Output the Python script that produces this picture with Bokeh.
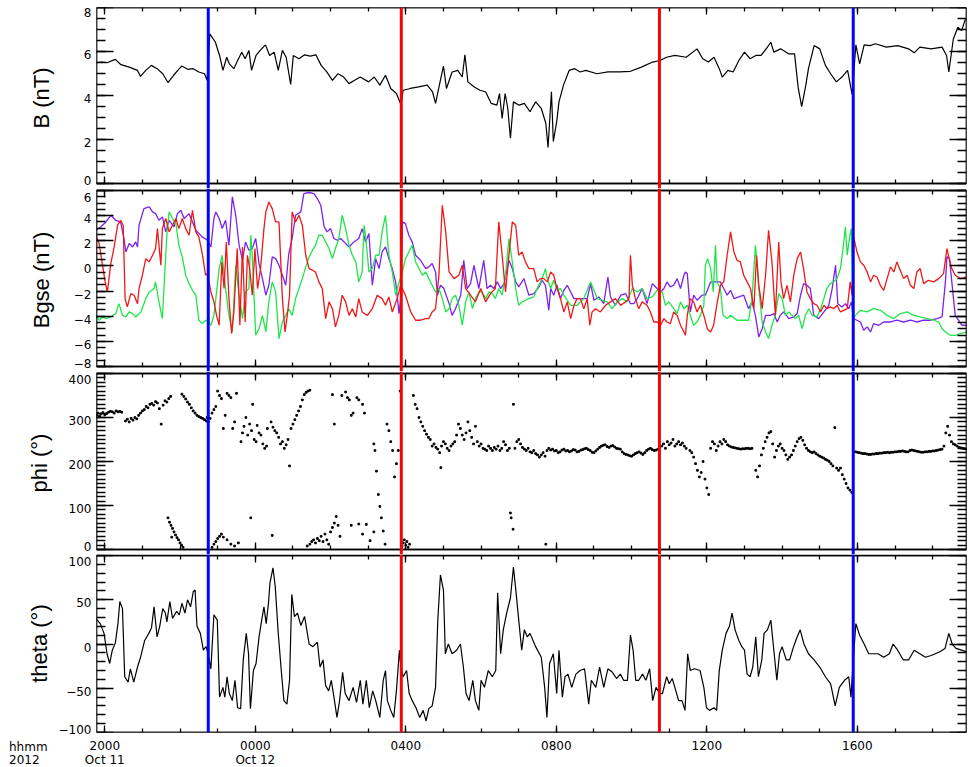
import numpy as np
from bokeh.plotting import figure
from bokeh.layouts import column
from bokeh.models import Range1d, LinearAxis, FixedTicker, Span, Div
from bokeh.embed import file_html
from bokeh.resources import INLINE

# ---------------- data (time in hours since 2012-10-11 00:00) ----------------
b_t = [19.76,19.91,20.06,20.28,20.43,20.65,20.87,20.95,21.09,21.24,
       21.39,21.54,21.68,21.83,21.98,22.05,22.20,22.35,22.50,22.65,
       22.72,22.79,22.94,23.05,23.14,23.24,23.31,23.43,23.53,23.64,
       23.73,23.83,23.90,24.02,24.13,24.27,24.38,24.50,24.61,24.72,
       24.82,24.94,25.01,25.16,25.31,25.46,25.61,25.75,25.90,26.05,
       26.20,26.35,26.49,26.64,26.79,27.01,27.16,27.31,27.46,27.60,
       27.75,27.87,27.93,28.12,28.34,28.57,28.71,28.79,28.91,29.00,
       29.08,29.23,29.38,29.50,29.57,29.65,29.82,29.97,30.12,30.27,
       30.42,30.49,30.56,30.64,30.71,30.78,30.86,31.01,31.15,31.30,
       31.45,31.60,31.72,31.78,31.87,31.92,32.01,32.07,32.19,32.34,
       32.49,32.63,32.78,33.08,33.37,33.67,33.97,34.26,34.56,34.75,
       34.93,35.15,35.45,35.74,35.89,36.04,36.19,36.33,36.41,36.56,
       36.70,36.85,37.00,37.15,37.30,37.44,37.59,37.70,37.78,37.96,
       38.18,38.33,38.43,38.52,38.63,38.70,38.85,39.00,39.15,39.29,
       39.44,39.59,39.74,39.86,39.96,40.06,40.18,40.33,40.48,40.77,
       41.07,41.36,41.51,41.66,41.96,42.25,42.37,42.43,42.55,42.67,
       42.77,42.87]
b_v = [5.49,5.52,5.49,5.64,5.40,5.29,5.14,4.87,5.14,5.37,
       5.22,4.99,4.59,4.92,5.22,5.34,5.19,5.22,5.07,4.99,
       4.69,6.80,6.42,5.82,5.14,5.74,5.44,5.22,5.59,5.97,
       5.67,6.05,5.14,5.82,6.05,6.30,5.82,5.97,5.14,6.05,
       5.74,4.50,5.82,5.67,5.85,5.79,5.85,5.37,5.07,4.69,
       4.99,4.84,4.54,4.69,4.84,4.62,4.84,4.47,4.92,4.32,
       4.09,3.59,4.24,4.32,4.39,4.47,4.17,3.64,4.62,5.34,
       4.32,5.07,5.14,4.84,5.85,4.62,4.39,4.24,4.17,3.64,
       3.56,4.09,2.96,4.09,3.41,2.06,3.71,3.56,3.64,3.26,
       3.71,3.41,2.74,1.64,4.17,1.91,2.81,3.71,4.47,5.14,
       5.22,5.07,5.14,4.99,5.07,5.07,5.10,5.29,5.52,5.59,
       5.74,5.82,5.74,6.12,5.67,5.52,5.74,5.22,4.84,5.14,
       5.07,5.59,5.97,5.67,5.82,5.82,6.15,6.42,5.97,6.12,
       5.89,5.89,4.32,3.49,4.47,5.22,6.27,6.12,5.37,4.99,
       4.62,4.84,5.14,4.05,6.30,5.44,6.30,6.27,6.35,6.20,
       6.27,6.12,5.94,6.20,6.12,6.20,5.82,5.07,6.57,7.10,
       6.95,7.47]

bx_t = [19.76,19.89,20.03,20.16,20.29,20.42,20.51,20.56,20.65,20.74,
        20.82,20.87,20.91,21.04,21.18,21.27,21.35,21.44,21.53,21.62,
        21.71,21.84,21.93,22.02,22.11,22.24,22.42,22.59,22.73,22.82,
        22.90,22.95,23.04,23.12,23.21,23.30,23.39,23.48,23.57,23.66,
        23.74,23.83,23.92,24.01,24.10,24.19,24.28,24.36,24.45,24.54,
        24.63,24.72,24.81,24.89,24.98,25.07,25.21,25.29,25.43,25.56,
        25.65,25.74,25.83,25.91,26.00,26.09,26.18,26.27,26.36,26.49,
        26.62,26.75,26.84,26.93,27.02,27.11,27.20,27.29,27.37,27.46,
        27.55,27.64,27.73,27.82,27.86,27.91,27.99,28.08,28.17,28.26,
        28.39,28.53,28.61,28.70,28.79,28.84,28.92,29.01,29.15,29.23,
        29.32,29.46,29.54,29.63,29.72,29.81,29.94,30.07,30.16,30.25,
        30.34,30.43,30.52,30.61,30.74,30.83,30.92,31.00,31.14,31.27,
        31.40,31.54,31.62,31.71,31.80,31.85,31.93,32.02,32.11,32.20,
        32.29,32.47,32.64,32.82,32.91,33.00,33.13,33.26,33.37,33.44,
        33.57,33.71,33.84,33.97,34.06,34.15,34.28,34.41,34.55,34.64,
        34.77,34.86,34.94,35.03,35.12,35.21,35.30,35.39,35.43,35.48,
        35.56,35.65,35.74,35.87,35.96,36.10,36.23,36.36,36.45,36.54,
        36.63,36.72,36.85,36.98,37.11,37.20,37.29,37.38,37.47,37.56,
        37.69,37.78,37.87,37.95,38.04,38.18,38.31,38.40,38.49,38.57,
        38.66,38.75,38.84,38.97,39.11,39.24,39.33,39.42,39.48,39.59,
        39.68,39.77,39.84,39.90,39.99,40.08,40.17,40.26,40.35,40.43,
        40.57,40.70,40.88,41.05,41.23,41.41,41.58,41.76,41.94,42.12,
        42.25,42.34,42.38,42.45,42.51,42.60,42.69,42.78,42.91]
bx_v = [2.84,3.10,3.50,4.03,3.63,3.50,2.18,1.11,1.78,1.51,
        1.91,1.51,3.24,4.56,4.69,4.30,4.16,3.63,3.90,2.71,
        3.63,3.10,4.16,4.43,3.77,4.16,2.84,2.31,2.04,1.51,
        3.77,4.30,3.77,2.97,3.63,1.64,5.49,4.03,1.64,0.45,
        1.91,1.25,1.38,2.18,0.19,-1.01,-2.33,-1.54,0.72,0.58,
        0.05,-0.74,-1.54,0.98,2.18,4.03,4.30,5.76,5.84,5.76,
        5.36,4.83,3.10,2.71,2.97,2.18,2.04,2.18,1.91,1.51,
        1.91,2.18,2.97,1.91,2.57,-1.54,0.58,-0.21,1.11,1.51,
        0.58,-0.21,-1.27,-3.79,-2.73,3.50,3.37,2.44,1.91,0.85,
        0.45,-0.21,-0.08,0.19,-0.48,-2.33,-1.54,-1.80,-3.00,-3.93,
        -3.40,-2.33,0.45,-1.80,-1.41,0.05,-1.80,0.45,-1.80,-1.54,
        -1.80,-1.27,-1.80,-1.41,0.45,-0.21,-1.27,-1.67,-1.01,-2.33,
        -2.20,-1.67,-1.14,-1.54,-3.53,-1.80,-2.33,-1.54,-2.60,-1.94,
        -1.54,-2.60,-2.60,-2.60,-1.41,-2.73,-2.47,-3.00,-0.88,-2.47,
        -3.13,-2.33,-2.20,-3.00,-3.00,-2.60,-1.80,-3.00,-1.41,-1.67,
        -2.07,-1.80,-1.27,-1.67,-1.54,-1.01,-1.80,-0.74,-0.48,-0.61,
        -3.66,-2.33,-2.73,-2.33,-2.33,-1.27,-1.27,-1.27,-1.80,-2.33,
        -1.94,-2.60,-2.47,-2.33,-3.40,-2.86,-3.93,-5.65,-4.99,-3.93,
        -3.93,-3.79,-4.46,-3.93,-3.66,-4.19,-4.06,-3.79,-2.33,-1.41,
        -1.54,-1.80,-3.93,-4.19,-3.66,-3.13,-1.80,0.05,-3.00,-3.26,
        -3.00,-3.40,-2.86,-4.19,-4.32,-4.46,-5.12,-4.85,-5.25,-4.59,
        -4.72,-4.46,-4.46,-4.32,-4.46,-4.32,-4.46,-4.32,-4.32,-4.19,
        -4.06,-1.27,0.72,0.58,-1.27,-3.93,-4.32,-4.72,-4.72]

by_t = [19.76,19.85,19.94,20.03,20.16,20.29,20.38,20.47,20.56,20.65,
        20.74,20.82,20.96,21.09,21.18,21.31,21.35,21.44,21.53,21.62,
        21.66,21.71,21.80,21.89,21.97,22.06,22.15,22.24,22.33,22.42,
        22.50,22.59,22.68,22.75,22.82,22.90,23.04,23.12,23.21,23.30,
        23.39,23.48,23.57,23.66,23.74,23.83,23.88,23.92,24.01,24.10,
        24.19,24.28,24.36,24.45,24.54,24.63,24.72,24.81,24.89,24.98,
        25.07,25.16,25.25,25.34,25.43,25.52,25.60,25.69,25.78,25.87,
        25.96,26.05,26.13,26.22,26.31,26.40,26.49,26.58,26.67,26.75,
        26.84,26.89,26.93,27.02,27.11,27.20,27.29,27.37,27.46,27.55,
        27.64,27.73,27.82,27.91,27.99,28.08,28.17,28.26,28.35,28.44,
        28.53,28.61,28.70,28.79,28.88,28.97,29.06,29.15,29.23,29.32,
        29.41,29.50,29.59,29.68,29.77,29.85,29.94,30.03,30.12,30.21,
        30.30,30.38,30.47,30.56,30.65,30.74,30.83,30.92,31.00,31.09,
        31.18,31.27,
        31.40,31.49,31.58,31.67,31.71,31.76,31.85,31.93,32.02,32.11,
        32.20,32.38,32.55,32.73,32.91,33.09,33.22,33.35,33.48,33.62,
        33.75,33.88,34.02,34.15,34.28,34.41,34.55,34.68,34.81,34.90,
        34.99,35.12,35.21,35.30,35.39,35.48,35.56,35.65,35.74,35.83,
        35.92,35.96,36.02,36.10,36.17,36.23,36.27,36.36,36.43,36.54,
        36.63,36.80,36.98,37.11,37.20,37.29,37.34,37.38,37.47,37.56,
        37.64,37.73,37.82,37.91,38.00,38.09,38.18,38.26,38.35,38.44,
        38.53,38.62,38.71,38.80,38.93,39.02,39.11,39.19,39.28,39.37,
        39.46,39.55,39.64,39.68,39.73,39.80,39.84,39.88,39.95,40.08,
        40.26,40.43,40.61,40.79,40.97,41.14,41.32,41.50,41.67,41.85,
        42.03,42.16,42.25,42.34,42.47,42.60,42.74,42.91]
by_v = [-3.93,-4.32,-4.06,-4.19,-4.06,-3.79,-3.00,-3.93,-4.06,-3.66,
        -3.79,-4.06,-3.66,-2.60,-2.07,-1.80,-1.27,-2.86,-4.19,0.85,
        2.97,4.30,3.77,3.37,1.64,0.72,-0.74,-1.41,-1.94,-2.33,
        -4.32,-4.59,-4.32,-4.46,-4.72,-3.93,-0.21,0.85,-1.80,-3.93,
        -5.25,0.05,-2.33,-4.19,-2.07,-1.80,2.44,0.85,-5.52,-4.99,
        -3.93,-5.25,-2.86,-1.27,-2.07,-5.78,-4.46,-3.93,-3.40,-3.93,
        -2.60,-1.80,-1.01,-0.08,0.72,1.25,1.64,2.44,2.44,1.91,
        1.38,0.58,1.38,2.18,4.03,2.97,1.64,0.85,0.32,-1.27,
        -0.48,3.24,2.44,-0.48,-0.21,0.85,0.85,2.71,4.03,0.85,
        -0.48,-2.33,-1.27,-0.48,0.58,1.11,1.64,0.32,-0.21,-0.74,
        -0.48,-1.01,-1.54,-2.07,-1.80,-2.60,-3.66,-3.40,-2.60,-2.33,
        -3.13,-4.72,-2.86,-2.07,-3.40,-2.60,-2.07,-2.07,-2.60,-2.07,
        -2.20,-2.60,-1.80,-2.33,-0.74,2.18,0.32,-1.80,-3.13,-2.86,
        -2.73,-2.60,
        -2.47,-1.80,-1.27,-0.61,-0.21,-1.01,-1.80,-1.14,-1.94,-1.80,
        -2.33,-3.13,-3.13,-2.60,-1.27,-2.60,-2.73,-2.86,-3.40,-2.86,
        -2.60,-2.86,-1.80,-2.07,-1.80,-2.60,-2.47,-1.94,-2.07,-3.13,
        -2.86,-3.40,-3.79,-2.86,-3.40,-3.13,-3.93,-4.72,-4.46,-3.93,
        -3.13,0.05,0.58,-0.21,-2.07,1.64,-1.27,-1.80,-3.93,-4.19,
        -3.93,-4.32,-4.32,-4.32,-2.60,1.64,0.05,-1.80,-4.46,-5.25,
        -5.78,-4.72,-3.93,-2.20,-2.60,-3.93,-3.66,-3.93,-4.19,-3.93,
        -4.99,-3.93,-3.40,-3.93,-4.06,-3.40,-2.60,-1.80,-1.41,-1.27,
        -1.01,-0.21,1.91,3.10,0.85,2.44,2.97,-4.19,-3.93,-3.53,
        -3.66,-3.40,-3.53,-3.93,-4.19,-3.79,-3.66,-3.93,-4.06,-4.19,
        -4.32,-4.46,-4.99,-5.25,-5.52,-5.52,-5.38,-5.25]

bz_t = [19.76,19.85,19.94,20.01,20.07,20.16,20.25,20.34,20.42,20.49,
        20.54,20.60,20.69,20.78,20.87,20.91,21.00,21.09,21.18,21.27,
        21.35,21.40,21.44,21.49,21.53,21.62,21.71,21.80,21.89,21.97,
        22.06,22.15,22.24,22.33,22.42,22.50,22.59,22.68,22.73,22.82,
        22.90,22.97,23.04,23.11,23.17,23.23,23.30,23.37,23.43,23.52,
        23.59,23.66,23.73,23.79,23.85,23.92,23.99,24.06,24.14,24.23,
        24.28,24.36,24.45,24.54,24.63,24.72,24.79,24.85,24.91,24.98,
        25.07,25.16,25.25,25.34,25.43,25.52,25.60,25.69,25.78,25.87,
        25.96,26.05,26.13,26.22,26.31,26.40,26.49,26.58,26.67,26.75,
        26.84,26.98,27.11,27.24,27.37,27.46,27.55,27.64,27.77,27.86,
        27.99,28.13,28.26,28.39,28.53,28.61,28.70,28.79,28.88,28.97,
        29.06,29.15,29.28,29.41,29.50,29.59,29.72,29.85,29.99,30.12,
        30.25,30.38,30.47,30.56,30.65,30.74,30.83,30.92,31.00,31.09,
        31.18,31.27,
        31.40,31.49,31.58,31.67,31.76,31.85,31.93,32.02,32.11,32.20,
        32.29,32.38,32.47,32.55,32.64,32.73,32.82,32.89,32.95,33.04,
        33.17,33.31,33.44,33.57,33.71,33.84,33.93,33.97,34.02,34.10,
        34.19,34.28,34.41,34.50,34.59,34.68,34.77,34.86,34.94,35.03,
        35.12,35.21,35.30,35.39,35.43,35.48,35.56,35.65,35.74,35.83,
        35.92,36.01,36.10,36.18,36.27,36.36,36.45,36.54,36.63,36.72,
        36.80,36.89,36.98,37.07,37.16,37.25,37.32,37.38,37.47,37.56,
        37.64,37.73,37.82,37.91,37.97,38.04,38.13,38.22,38.31,38.40,
        38.49,38.57,38.66,38.75,38.84,38.93,39.02,39.11,39.19,39.28,
        39.37,39.46,39.55,39.64,39.73,39.81,39.86,39.90,39.99,40.08,
        40.17,40.26,40.35,40.43,40.52,40.61,40.70,40.79,40.88,40.97,
        41.05,41.14,41.23,41.32,41.41,41.50,41.58,41.67,41.76,41.89,
        42.03,42.16,42.29,42.38,42.45,42.51,42.60,42.74,42.91]
bz_v = [2.44,1.78,0.05,-1.27,-2.07,0.19,1.51,3.24,3.63,3.24,
        -2.60,-3.26,-2.20,-2.33,-3.00,-1.80,-0.74,0.58,0.32,0.85,
        1.38,2.97,1.64,0.05,2.97,3.77,2.71,3.24,3.77,2.97,
        3.77,2.97,2.44,4.43,2.71,2.31,0.98,-0.74,-0.61,-2.07,
        -2.86,-3.93,-4.72,0.32,-1.80,1.91,-2.60,-5.38,-3.66,1.38,
        -4.72,1.51,-4.46,0.85,-0.21,-2.33,1.38,-1.80,-0.21,2.97,
        4.30,5.09,4.56,3.50,3.50,-2.60,-5.25,-3.93,-2.33,4.30,
        3.50,4.03,3.24,0.85,-0.21,-0.34,-0.48,-1.27,-1.80,-4.19,
        -2.86,-3.40,-4.85,-3.93,-2.33,-2.86,-3.93,-3.40,-4.06,-2.60,
        -3.66,-3.93,-3.40,-2.33,-2.60,-3.13,-2.47,-3.66,-2.60,-1.54,
        -2.33,-3.66,-4.32,-4.32,-4.19,-4.19,-3.66,-3.40,-0.74,4.83,
        2.71,-0.48,-1.01,-0.74,0.05,-1.80,-2.33,-2.86,-1.80,-2.86,
        -2.20,-1.80,3.50,0.85,-2.07,0.85,3.50,3.24,0.85,1.11,
        0.32,-0.21,
        -0.21,-1.27,-1.01,-1.01,-1.27,-0.48,-0.74,-1.80,-2.60,-3.66,
        -2.86,-4.19,-3.13,-2.60,-2.60,-3.40,-2.60,-4.72,-3.66,-3.40,
        -3.66,-3.13,-2.86,-2.60,-3.13,-2.86,-2.60,0.85,-1.54,-2.60,
        -3.40,-2.86,-3.13,-3.66,-4.46,-4.46,-4.72,-4.19,-4.46,-4.59,
        -3.66,-3.93,-4.72,-5.25,-5.52,-3.93,-2.60,-2.86,-3.66,-3.13,
        -3.93,-4.99,-5.25,-4.72,-3.00,-1.54,-1.27,0.85,2.71,1.11,
        0.45,0.32,-0.74,-1.27,-1.80,-3.40,0.85,-1.54,-3.40,-0.74,
        2.84,0.32,-3.93,1.91,-1.27,-2.60,-1.54,-2.86,-0.74,0.58,
        1.11,-0.21,-2.07,-2.60,-3.00,-3.13,-3.66,-3.13,-3.40,-3.26,
        -3.40,-3.13,-3.66,-3.53,-3.40,-1.27,-2.33,2.31,1.11,0.32,
        0.05,-0.48,-1.27,-0.74,-0.88,-1.54,-1.94,-1.01,-0.08,-0.48,
        0.32,-0.34,-1.01,-0.74,-1.54,-1.80,-0.48,-0.21,-1.41,-1.14,
        -1.27,-1.01,-0.61,1.38,0.45,-0.21,-0.74,-1.01,-0.88]

phi_samples = [
    (19.78,305),(19.82,310),(19.86,303),(19.90,308),(19.95,311),(20.00,306),(20.05,309),(20.10,312),
    (20.15,314),(20.20,313),(20.25,310),(20.30,315),(20.35,313),(20.40,314),(20.45,312),
    (20.55,292),(20.60,296),(20.65,290),(20.70,298),(20.75,294),(20.80,300),(20.85,297),
    (20.90,305),(20.95,310),(21.00,315),(21.05,318),(21.10,325),(21.15,322),(21.20,330),(21.25,332),
    (21.30,328),(21.35,336),(21.40,333),(21.45,320),(21.50,285),(21.55,328),(21.60,338),(21.65,335),
    (21.70,343),(21.75,348),
    (21.68,72),(21.72,62),(21.76,55),(21.78,28),(21.80,48),(21.84,40),(21.88,33),(21.92,27),
    (21.96,22),(22.00,15),(22.04,10),(22.08,5),
    (22.05,353),(22.10,348),(22.15,342),(22.20,335),(22.25,330),(22.30,322),(22.35,315),(22.40,310),
    (22.45,305),(22.50,302),(22.55,300),(22.60,298),(22.65,295),(22.70,292),(22.72,300),(22.75,290),
    (22.80,298),(22.85,310),(22.90,318),(22.95,325),(23.00,360),(23.05,350),(23.10,343),(23.15,275),
    (23.20,305),(23.25,355),(23.30,350),(23.35,345),(23.40,275),(23.45,290),(23.50,355),
    (22.85,5),(22.90,12),(22.95,18),(23.00,25),(23.05,30),(23.10,35),(23.15,28),(23.25,22),
    (23.35,12),(23.45,8),(23.55,15),
    (23.62,245),(23.66,265),(23.70,280),(23.75,300),(23.80,260),(23.85,285),(23.90,270),(23.93,330),
    (23.97,250),(24.02,245),(24.05,282),(24.10,265),(24.15,260),(24.20,240),(24.25,230),(24.30,235),
    (24.32,275),(23.88,72),(24.45,32),
    (24.42,290),(24.47,278),(24.52,270),(24.57,265),(24.62,255),(24.67,240),(24.72,245),(24.77,230),
    (24.82,238),(24.87,250),(24.91,190),
    (24.95,275),(25.00,285),(25.05,295),(25.10,305),(25.15,315),(25.20,325),(25.25,340),(25.30,352),
    (25.35,357),(25.40,360),(25.45,362),
    (25.38,8),(25.45,12),(25.50,18),(25.55,22),(25.60,15),(25.65,25),(25.70,20),(25.75,30),
    (25.80,18),(25.85,35),(25.90,22),(25.95,12),(26.00,40),(26.05,50),(26.10,60),(26.15,75),
    (26.20,55),(26.25,30),
    (26.05,352),(26.10,285),(26.30,350),(26.40,358),(26.45,345),(26.50,340),(26.55,305),(26.60,310),
    (26.70,345),(26.75,340),(26.85,330),(26.90,310),
    (26.55,55),(26.75,58),(26.85,35),(26.95,57),(27.05,20),(27.15,40),
    (27.15,240),(27.18,225),(27.22,178),(27.27,125),(27.31,98),(27.35,72),(27.40,42),(27.45,12),
    (27.50,285),(27.55,270),(27.60,245),(27.65,225),(27.70,165),(27.75,195),(27.80,225),(27.85,360),
    (27.90,8),(27.93,15),(27.96,22),(28.00,10),(28.03,18),(28.06,5),(28.10,12),
    (28.20,350),(28.25,330),(28.30,320),(28.35,300),(28.40,290),(28.45,280),(28.50,270),(28.55,262),
    (28.60,255),(28.65,250),
    (28.70,235),(28.75,240),(28.80,232),(28.85,228),(28.90,220),(28.93,186),(28.95,235),(29.00,245),
    (29.05,240),(29.10,230),(29.15,225),(29.20,235),(29.25,240),(29.30,245),(29.35,260),(29.40,285),
    (29.45,275),(29.50,260),(29.55,250),(29.60,265),(29.65,290),(29.70,270),(29.75,255),(29.80,240),
    (29.85,280),(29.90,245),(29.95,235),(30.00,240),(30.05,230),(30.10,228),
    (30.15,225),(30.20,235),(30.25,230),(30.30,225),(30.35,232),(30.40,228),(30.45,235),(30.50,225),
    (30.55,230),(30.60,245),(30.65,238),(30.70,225),(30.75,230),(30.78,83),(30.80,72),(30.85,46),
    (30.86,330),
    (30.90,230),(30.95,245),(31.00,250),(31.05,240),(31.10,232),(31.15,228),(31.20,225),(31.25,230),
    (31.30,222),(31.35,220),(31.40,225),(31.45,218),(31.50,215),(31.55,210),(31.60,215),(31.65,220),
    (31.70,212),(31.72,12),(31.75,225),(31.80,230),
    (31.85,226),(31.90,228),(31.95,224),(32.00,225),(32.05,220),(32.10,222),(32.15,226),(32.20,228),
    (32.25,224),(32.30,225),(32.35,222),(32.40,224),(32.45,227),(32.50,226),(32.55,222),(32.60,223),
    (32.65,226),(32.70,227),(32.75,229),(32.80,230),(32.85,227),(32.90,225),(32.95,221),(33.00,220),
    (33.05,224),(33.10,228),(33.15,232),(33.20,235),(33.25,237),(33.30,238),(33.35,234),(33.40,232),
    (33.45,235),(33.50,236),(33.55,233),(33.60,230),(33.65,229),(33.70,228),(33.75,222),(33.80,218),
    (33.85,216),(33.90,215),(33.95,213),(34.00,212),(34.05,215),(34.10,218),(34.15,220),(34.20,222),
    (34.25,219),(34.30,216),(34.35,220),(34.40,225),(34.45,228),(34.50,230),(34.55,227),(34.60,225),
    (34.65,226),(34.70,228),
    (34.80,235),(34.85,240),(34.90,230),(34.95,245),(35.00,238),(35.05,242),(35.10,250),(35.15,235),
    (35.20,240),(35.25,245),(35.30,238),(35.35,242),(35.40,235),(35.45,230),
    (35.55,225),(35.60,220),(35.65,210),(35.70,195),(35.75,180),(35.80,165),(35.85,175),(35.90,200),
    (35.95,160),(36.00,140),(36.05,125),(36.10,230),(36.15,245),(36.20,240),(36.25,225),
    (36.30,235),(36.35,245),(36.40,240),(36.45,250),(36.50,245),(36.55,238),(36.60,235),(36.65,233),
    (36.70,232),(36.75,231),(36.80,230),(36.85,229),(36.90,228),(36.95,229),(37.00,229),(37.05,230),
    (37.10,230),(37.15,229),(37.20,230),
    (37.30,180),(37.35,165),(37.40,190),(37.45,215),(37.50,230),(37.55,245),(37.60,255),(37.65,265),
    (37.70,268),(37.75,240),(37.80,210),(37.85,225),
    (37.90,235),(37.95,240),(38.00,230),(38.05,225),(38.10,215),(38.15,205),(38.20,210),(38.25,215),
    (38.30,225),(38.35,235),(38.40,245),(38.45,252),(38.50,255),(38.55,248),(38.60,238),(38.65,230),
    (38.70,225),
    (38.75,222),(38.80,220),(38.85,222),(38.90,218),(38.95,215),(39.00,212),(39.05,210),(39.10,208),
    (39.15,205),(39.20,203),(39.25,200),(39.30,195),(39.35,190),(39.40,277),(39.45,185),(39.50,180),
    (39.55,185),(39.60,170),(39.65,160),(39.70,150),(39.75,140),(39.80,135),(39.85,130),
    (39.95,222),(40.00,221),(40.05,220),(40.10,219),(40.15,218),(40.20,218),(40.25,217),(40.30,216),
    (40.35,216),(40.40,217),(40.45,217),(40.50,218),(40.55,218),(40.60,219),(40.65,219),(40.70,220),
    (40.75,220),(40.80,221),(40.85,220),(40.90,221),(40.95,221),(41.00,222),(41.05,222),(41.10,223),
    (41.15,223),(41.20,224),(41.25,223),(41.30,222),(41.35,222),(41.40,225),(41.45,226),(41.50,225),
    (41.55,224),(41.60,223),(41.65,222),(41.70,221),(41.75,221),(41.80,222),(41.85,222),(41.90,223),
    (41.95,223),(42.00,224),(42.05,224),(42.10,225),(42.15,226),(42.20,227),(42.25,228),(42.30,235),
    (42.35,265),(42.40,280),(42.45,260),(42.50,245),(42.55,240),(42.60,238),(42.65,235),(42.70,232),
    (42.75,231),(42.80,230),(42.85,229),(42.90,228),
]
phi_t = [s[0] for s in phi_samples]
phi_v = [s[1] for s in phi_samples]

theta_t = [19.76,19.88,19.98,20.06,20.13,20.20,20.28,20.35,20.40,20.47,
           20.53,20.62,20.68,20.77,20.87,20.95,21.06,21.17,21.24,21.31,
           21.39,21.46,21.54,21.61,21.65,21.73,21.80,21.91,21.98,22.05,
           22.13,22.20,22.28,22.35,22.40,22.45,22.54,22.62,22.69,22.75,
           22.82,22.90,22.99,23.05,23.14,23.19,23.25,23.31,23.39,23.46,
           23.53,23.61,23.68,23.76,23.82,23.87,23.95,24.02,24.10,24.17,
           24.23,24.29,24.35,24.39,24.47,24.53,24.61,24.69,24.76,24.84,
           24.91,24.97,25.04,25.12,25.21,25.31,25.43,25.53,25.65,25.72,
           25.80,25.87,25.95,26.02,26.09,26.17,26.24,26.32,26.39,26.49,
           26.60,26.69,26.79,26.86,26.95,27.03,27.12,27.20,27.31,27.40,
           27.46,27.51,27.60,27.68,27.75,27.83,27.87,27.93,28.02,28.09,
           28.17,28.27,28.37,28.46,28.54,28.61,28.70,28.79,28.85,28.92,
           29.00,29.05,29.13,29.23,29.35,29.45,29.53,29.60,29.68,29.78,
           29.85,29.94,30.00,30.09,30.19,30.30,30.39,30.44,30.52,30.59,
           30.68,30.78,30.86,30.93,31.01,31.08,31.15,31.23,31.30,31.45,
           31.60,31.69,31.75,31.82,31.92,32.01,32.07,32.16,32.23,32.31,
           32.41,32.52,32.63,32.75,32.86,32.93,33.05,33.15,33.26,33.37,
           33.49,33.60,33.70,33.79,33.89,33.97,34.04,34.11,34.19,34.29,
           34.38,34.48,34.56,34.65,34.74,34.82,34.93,35.00,35.08,35.15,
           35.25,35.34,35.42,35.49,35.56,35.67,35.82,35.92,35.99,36.07,
           36.19,36.26,36.33,36.41,36.51,36.60,36.67,36.75,36.85,36.93,
           37.00,37.07,37.15,37.22,37.30,37.37,37.46,37.52,37.61,37.70,
           37.78,37.86,37.93,38.00,38.11,38.20,38.29,38.38,38.48,38.58,
           38.70,38.85,39.00,39.15,39.29,39.41,39.52,39.66,39.77,39.83,
           39.89,39.96,40.06,40.18,40.30,40.40,40.55,40.70,40.85,40.95,
           41.07,41.22,41.36,41.51,41.66,41.81,41.96,42.18,42.33,42.43,
           42.52,42.62,42.77,42.92]
theta_v = [29,23,12,-11,-22,-7,1,23,48,40,
           -37,-43,-28,-43,-26,-15,4,12,18,42,
           8,20,40,35,25,48,29,37,33,46,
           35,50,42,59,61,20,12,-7,-3,-11,
           -28,33,27,-60,-49,-60,-37,-56,-64,-41,
           -72,-73,-18,12,-11,-73,-30,-22,8,27,
           42,23,46,69,86,65,12,-30,-64,-68,
           -41,56,31,35,21,31,0,-3,2,-26,
           -18,-47,-53,-41,-60,-83,-64,-32,-56,-64,
           -49,-66,-41,-68,-41,-72,-53,-64,-83,-41,
           -30,-64,-75,-83,-53,-7,-26,-37,-30,-56,
           -64,-72,-83,-75,-87,-73,-70,-49,27,78,
           61,-11,0,-11,-7,0,-26,-56,-64,-41,
           -64,-75,-41,-49,-30,-37,-30,58,-11,16,
           35,52,87,58,23,-7,16,8,12,-3,
           -15,-49,-83,-22,-11,-56,-7,-60,-37,-34,
           -49,-34,-30,-28,-68,-41,-49,-26,-49,-28,
           -32,-39,-34,-41,-41,10,-7,-41,-41,-34,
           -41,-28,-64,-49,-56,-56,-37,-45,-39,-49,
           -64,-64,-75,-11,-30,-28,-30,-49,-72,-75,
           -72,-75,-30,-7,12,20,35,16,4,-3,
           -7,-34,-37,-26,8,-37,-18,12,16,27,
           -7,-41,-11,-3,-18,-18,-5,6,16,0,
           -11,-18,-26,-37,-45,-70,-49,-41,-37,-60,
           -18,23,10,0,-11,-11,-11,-15,-11,0,
           -7,-18,-18,-7,-11,-15,-13,-9,-5,12,
           0,-5,-7,-9]

# event lines (hours) and colours
event_t = [22.75, 27.88, 34.74, 39.89]
event_c = ["#0505f5", "#f50505", "#f50505", "#0505f5"]

# time axis
X_START, X_END = 19.78, 42.90
x_major = [20, 24, 28, 32, 36, 40]
x_minor = list(range(20, 43))
x_label_hhmm = ["2000", "0000", "0400", "0800", "1200", "1600"]
x_label_date = {20: "Oct 11", 24: "Oct 12"}
corner_label = ["hhmm", "2012"]

for a, b in [(b_t, b_v), (bx_t, bx_v), (by_t, by_v), (bz_t, bz_v), (theta_t, theta_v)]:
    assert len(a) == len(b), (len(a), len(b))

TICK_FONT = "DejaVu Sans"
LABEL_FONT = "Liberation Sans"
W = 968
LEFT, RIGHT = 96, 2


def fmt(v):
    return f"{v:g}".replace("-", "\u2212")


def bare_axis(ax):
    """Axis used only for its labels: no line, no tick marks."""
    ax.axis_line_color = None
    ax.major_tick_in = 0
    ax.major_tick_out = 0
    ax.minor_tick_in = 0
    ax.minor_tick_out = 0
    ax.major_tick_line_color = None
    ax.minor_tick_line_color = None
    ax.major_label_text_font = TICK_FONT
    ax.major_label_text_font_size = "12px"
    ax.major_label_text_color = "black"


def edge_axis(p, side, loc, marks, length, bounds=None):
    """Box edge at a fixed location, with inward tick marks and no labels."""
    kw = dict(ticker=FixedTicker(ticks=[], minor_ticks=marks), fixed_location=loc)
    if bounds is not None:
        kw["bounds"] = bounds
    ax = LinearAxis(**kw)
    ax.axis_line_width = 1.4
    ax.axis_line_color = "black"
    ax.minor_tick_in = length
    ax.minor_tick_out = 0
    ax.minor_tick_line_width = 1.3
    ax.minor_tick_line_color = "black"
    ax.major_tick_in = 0
    ax.major_tick_out = 0
    p.add_layout(ax, side)


def panel(height, border_top, border_bottom, pad_top, pad_bottom, ylo, yhi,
          yticks, yminor, ylabel, label_standoff, top_shift=6, bottom_shift=-3):
    frame_px = height - border_top - border_bottom
    span_px = frame_px - pad_top - pad_bottom
    upp = (yhi - ylo) / span_px
    p = figure(width=W, height=height,
               x_range=Range1d(X_START, X_END),
               y_range=Range1d(ylo - pad_bottom * upp, yhi + pad_top * upp),
               output_backend="svg", toolbar_location=None,
               x_axis_location=None, y_axis_location=None,
               min_border_left=LEFT, min_border_right=RIGHT,
               min_border_top=border_top, min_border_bottom=border_bottom)
    p.outline_line_color = None
    p.grid.visible = False
    p.background_fill_color = "white"
    p.border_fill_color = "white"

    for side, loc in (("below", ylo), ("above", yhi)):
        edge_axis(p, side, loc, x_major, 7)
        edge_axis(p, side, loc, x_minor, 4)
    for side, loc in (("left", X_START), ("right", X_END)):
        edge_axis(p, side, loc, yticks, 17, bounds=(ylo, yhi))
        edge_axis(p, side, loc, yminor, 9, bounds=(ylo, yhi))

    # value labels, placed like the original: a little below each tick, edge ones inside the box
    shifts = []
    for v in yticks:
        if v == yhi:
            shifts.append(top_shift)
        elif v == ylo:
            shifts.append(bottom_shift)
        else:
            shifts.append(3)
    pos = [round(v - s * upp, 6) for v, s in zip(yticks, shifts)]
    lab = LinearAxis(ticker=FixedTicker(ticks=pos, minor_ticks=[]), axis_label=ylabel)
    bare_axis(lab)
    lab.major_label_overrides = {pp: fmt(v) for pp, v in zip(pos, yticks)}
    lab.major_label_standoff = 5
    lab.axis_label_standoff = label_standoff
    lab.axis_label_text_font = LABEL_FONT
    lab.axis_label_text_font_size = "22px"
    lab.axis_label_text_font_style = "normal"
    lab.axis_label_text_color = "black"
    p.add_layout(lab, "left")

    for t, c in zip(event_t, event_c):
        p.add_layout(Span(location=t, dimension="height", line_color=c, line_width=3))
    return p


# panel 1: |B|
p1 = panel(188, 7, 0, 0, 5, 0, 8, [0, 2, 4, 6, 8],
           [v / 2 for v in range(0, 17)], "B (nT)", 27, top_shift=5)
p1.line(b_t, b_v, line_color="black", line_width=1.2)

# panel 2: Bgse components
p2 = panel(183, 0, 0, 2, 5, -8, 6, list(range(-8, 7, 2)),
           [v / 2 for v in range(-16, 13)], "Bgse (nT)", 17, top_shift=7)
p2.line(bx_t, bx_v, line_color="#7d22ee", line_width=1.3)
p2.line(by_t, by_v, line_color="#20e64a", line_width=1.3)
p2.line(bz_t, bz_v, line_color="#ee1818", line_width=1.3)

# panel 3: phi
p3 = panel(183, 0, 0, 2, 5, 0, 400, [0, 100, 200, 300, 400],
           list(range(0, 401, 10)), "phi (\u00b0)", 14, top_shift=6)
p3.scatter(phi_t, phi_v, marker="square", size=1.7, color="black")

# panel 4: theta
p4 = panel(182, 0, 4, 1, 0, -100, 100, [-100, -50, 0, 50, 100],
           list(range(-100, 101, 10)), "theta (\u00b0)", 4, top_shift=6)
p4.line(theta_t, theta_v, line_color="black", line_width=1.2)

# time-label row under the last panel: a thin frame whose bottom axis carries the labels
P5_H, P5_AX = 31, 28
p5 = figure(width=W, height=P5_H, x_range=Range1d(X_START, X_END),
            y_range=Range1d(P5_H - P5_AX, 0),
            output_backend="svg", toolbar_location=None,
            x_axis_location=None, y_axis_location=None,
            min_border_left=LEFT, min_border_right=RIGHT,
            min_border_top=0, min_border_bottom=P5_AX)
p5.outline_line_color = None
p5.grid.visible = False
p5.background_fill_color = "white"
p5.border_fill_color = "white"

tlab = LinearAxis(ticker=FixedTicker(ticks=x_major, minor_ticks=[]))
bare_axis(tlab)
tlab.major_label_overrides = {
    t: (h + "\n" + x_label_date[t]) if t in x_label_date else h
    for t, h in zip(x_major, x_label_hhmm)
}
tlab.major_label_standoff = 2
tlab.major_label_text_line_height = 1.0
p5.add_layout(tlab, "below")

# "hhmm / 2012" key in the lower-left corner, beside the time labels
corner = Div(text="<br>".join(corner_label), width=60, height=26, margin=0,
             styles={"position": "absolute", "left": "9px", "top": "741px",
                     "font-family": TICK_FONT, "font-size": "12px",
                     "line-height": "12.5px", "color": "black"})

layout = column(p1, p2, p3, p4, p5, corner, spacing=0)
open("out.html", "w").write(file_html(layout, INLINE))
